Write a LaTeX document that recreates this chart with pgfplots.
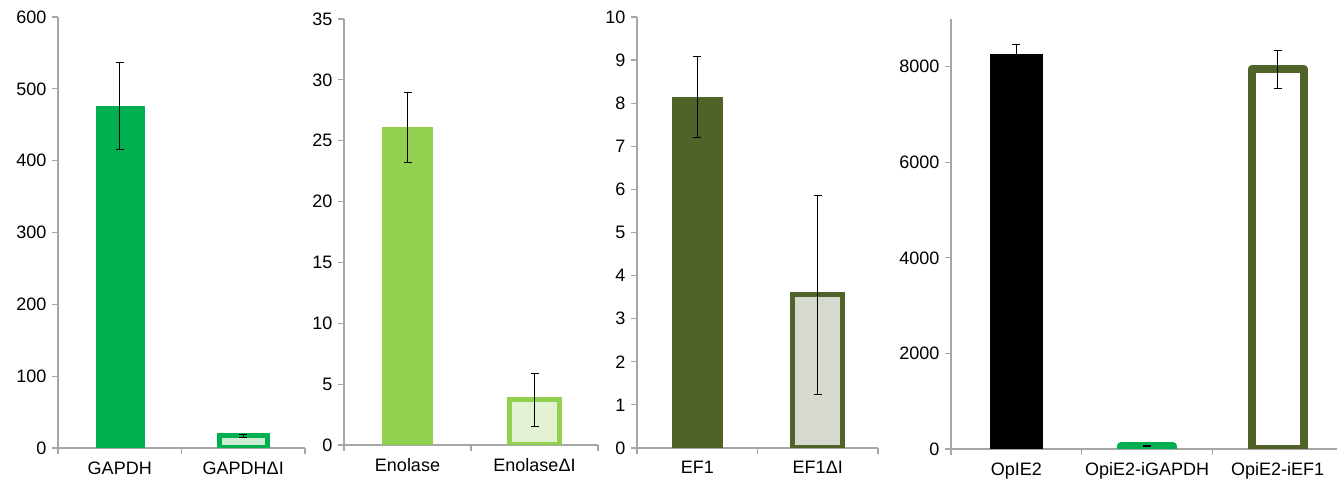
\documentclass[border=0pt]{standalone}
\usepackage{pgfplots}
\pgfplotsset{compat=1.18}
\usepackage{fontspec}
\setmainfont{Liberation Sans}
\definecolor{gGreen}{HTML}{00B050}
\definecolor{lGreen}{HTML}{92D050}
\definecolor{olive}{HTML}{4F6228}
\definecolor{axgray}{HTML}{A6A6A6}
\definecolor{paleG}{HTML}{CBEBD3}
\definecolor{paleL}{HTML}{E2F2D2}
\definecolor{paleO}{HTML}{D6D9CE}
\pgfplotsset{
 panel/.style={
  scale only axis, anchor=south west,
  axis x line=bottom, axis y line=left,
  axis line style={-, draw=axgray, line width=1.2pt},
  ybar, bar shift=0pt,
  tick align=outside, major tick length=6pt,
  tick style={draw=axgray, line width=1.2pt},
  x tick label as interval,
  xticklabel style={font=\fontsize{18}{21}\selectfont, yshift=-4pt},
  yticklabel style={font=\fontsize{18}{21}\selectfont, /pgf/number format/1000 sep={}, xshift=-2pt},
  /pgf/number format/assume math mode=true,
  ymin=0,
 },
 eb/.style={error bars/.cd, y dir=both, y explicit,
   error bar style={draw=black, line width=1pt},
   error mark options={rotate=90, draw=black, line width=1pt, mark size=4pt}},
}
\begin{document}
\begin{tikzpicture}
\path[use as bounding box] (0,0) rectangle (1337pt,484pt);
% Panel 1
\begin{axis}[panel, at={(58pt,36pt)}, width=247pt, height=431pt,
  xmin=-0.5, xmax=1.5, ymax=600, ytick={0,100,...,600},
  xtick={-0.5,0.5,1.5}, xticklabels={GAPDH,GAPDHΔI}, bar width=48pt]
\addplot[fill=gGreen, draw=gGreen, eb] coordinates {(0,476) +- (0,60)};
\addplot[fill=paleG, draw=gGreen, line width=5pt, eb] coordinates {(1,17) +- (0,2)};
\end{axis}
% Panel 2
\begin{axis}[panel, at={(344pt,39pt)}, width=254pt, height=426pt,
  xmin=-0.5, xmax=1.5, ymax=35, ytick={0,5,...,35},
  xtick={-0.5,0.5,1.5}, xticklabels={Enolase,EnolaseΔI}, bar width=50pt]
\addplot[fill=lGreen, draw=lGreen, eb] coordinates {(0,26.1) +- (0,2.85)};
\addplot[fill=paleL, draw=lGreen, line width=5pt, eb] coordinates {(1,3.7) +- (0,2.2)};
\end{axis}
% Panel 3
\begin{axis}[panel, at={(637pt,36pt)}, width=241pt, height=431pt,
  xmin=-0.5, xmax=1.5, ymax=10, ytick={0,1,...,10},
  xtick={-0.5,0.5,1.5}, xticklabels={EF1,EF1ΔI}, bar width=50pt]
\addplot[fill=olive, draw=olive, eb] coordinates {(0,8.15) +- (0,0.94)};
\addplot[fill=paleO, draw=olive, line width=5pt, eb] coordinates {(1,3.55) +- (0,2.3)};
\end{axis}
% Panel 4
\begin{axis}[panel, at={(951pt,35pt)}, width=392pt, height=430pt,
  xmin=-0.5, xmax=2.5, ymax=9000, ytick={0,2000,...,8000},
  xtick={-0.5,0.5,1.5,2.5}, xticklabels={OpIE2,OpiE2-iGAPDH,OpiE2-iEF1}, bar width=52pt]
\addplot[fill=black, draw=black, eb] coordinates {(0,8270) +- (0,190)};
\addplot[fill=gGreen, draw=gGreen, line width=8pt, line join=round, eb] coordinates {(1,60) +- (0,15)};
\addplot[fill=white, draw=olive, line width=8pt, line join=round, eb] coordinates {(2,7950) +- (0,400)};
\end{axis}
\end{tikzpicture}
\end{document}
